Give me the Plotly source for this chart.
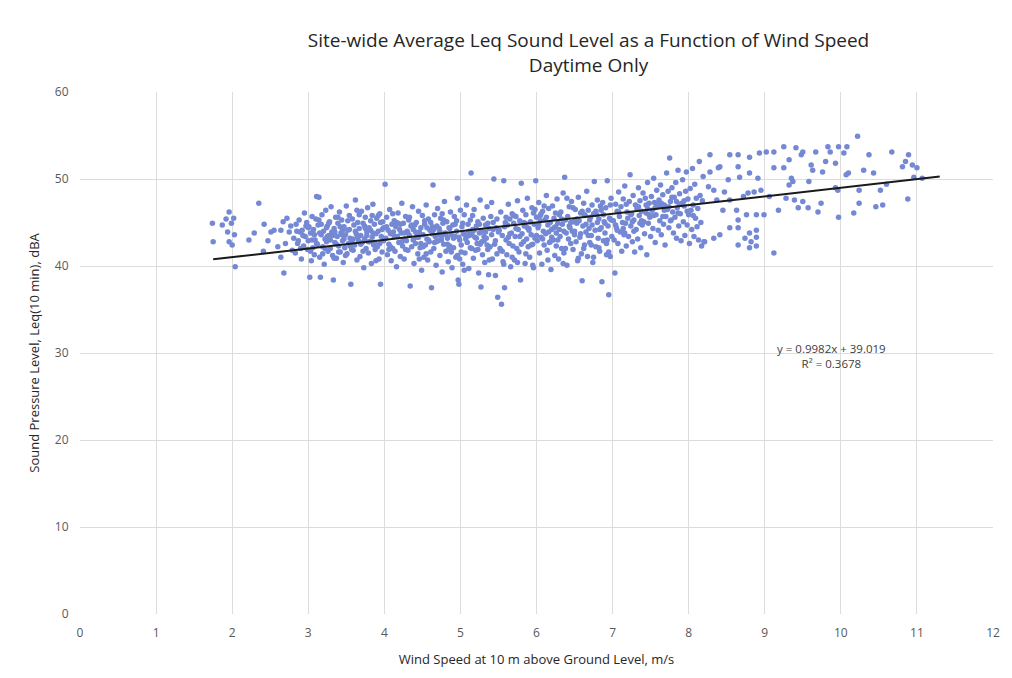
import plotly.graph_objects as go

# ---------------- data ----------------
ws_a = [1.74, 1.75, 1.87, 1.94, 1.96, 1.96, 1.99, 2.00, 2.03, 2.04,
        2.22, 2.29, 2.35, 2.41, 2.42, 2.51, 2.55, 2.64, 2.64, 2.67,
        2.68, 2.72, 2.75, 2.70, 2.60, 2.47, 1.92, 2.02, 2.77, 2.79]
leq_a = [44.9, 42.8, 44.7, 43.9, 46.2, 42.8, 44.9, 42.4, 43.6, 39.9,
         43.0, 43.8, 47.2, 41.7, 44.8, 43.9, 44.1, 44.1, 41.0, 45.1,
         39.2, 45.5, 43.9, 42.6, 42.2, 42.9, 45.4, 45.5, 44.6, 41.8]

ws_b = [2.81, 2.83, 2.84, 2.86, 2.88, 2.89, 2.91, 2.92, 2.94, 2.95,
        2.96, 2.98, 2.99, 3.00, 3.01, 3.02, 3.03, 3.04, 3.05, 3.06,
        3.07, 3.08, 3.09, 3.10, 3.11, 3.12, 3.13, 3.14, 3.15, 3.16,
        3.17, 3.18, 3.19, 3.20, 3.21, 3.22, 3.23, 3.24, 3.25, 3.26,
        3.27, 3.28, 3.29, 3.30, 3.31, 3.32, 3.33, 3.34, 3.35, 3.36,
        3.37, 3.38, 3.39, 3.40, 3.41, 3.42, 3.43, 3.44, 3.45, 3.46,
        3.47, 3.48, 3.49, 3.50, 3.51, 3.52, 3.53, 3.54, 3.55, 3.56,
        3.57, 3.58, 3.59, 3.60, 3.61, 3.62, 3.63, 3.64, 3.65, 3.66,
        3.67, 3.68, 3.69, 3.70, 3.71, 3.72, 3.73, 3.74, 3.75, 3.76,
        3.77, 3.78, 3.79, 3.80, 3.81, 3.82, 3.83, 3.84, 3.85, 3.86,
        3.87, 3.88, 3.89, 3.90, 3.91, 3.92, 3.93, 3.94, 3.95, 3.96,
        3.97, 3.98, 3.99, 2.85, 2.90, 2.97, 3.03, 3.08, 3.14, 3.19,
        3.24, 3.29, 3.34, 3.39, 3.44, 3.49, 3.54, 3.59, 3.64, 3.69,
        3.74, 3.79, 3.84, 3.89, 3.94, 3.99, 2.87, 2.93, 3.00, 3.06,
        3.11, 3.17, 3.22, 3.27, 3.32, 3.37, 3.42, 3.47, 3.52, 3.57,
        3.62, 3.67, 3.72, 3.77, 3.82, 3.87, 3.92, 3.97, 3.05, 3.25,
        3.45, 3.65, 3.85, 3.35, 3.55, 3.75, 3.95, 3.15, 3.40, 3.60]
leq_b = [43.2, 41.5, 44.8, 42.6, 45.3, 43.9, 40.8, 44.1, 42.3, 46.1,
         43.4, 45.0, 41.9, 42.9, 44.5, 38.7, 43.8, 40.6, 45.7, 42.1,
         44.2, 41.3, 43.0, 45.4, 48.0, 42.5, 44.7, 47.9, 41.0, 38.7,
         43.6, 45.9, 42.2, 44.0, 40.2, 43.1, 46.4, 42.8, 44.6, 41.7,
         43.5, 45.1, 42.0, 46.8, 43.9, 41.2, 38.4, 44.3, 42.7, 45.6,
         40.9, 43.4, 44.9, 42.3, 46.2, 41.6, 43.8, 45.3, 42.9, 40.4,
         44.5, 42.1, 43.6, 46.9, 41.4, 44.1, 42.6, 45.8, 43.2, 37.9,
         43.0, 45.4, 41.8, 44.7, 42.4, 47.6, 43.7, 40.7, 45.0, 42.9,
         44.3, 41.1, 43.5, 46.3, 42.7, 44.9, 39.8, 43.1, 45.6, 42.0,
         43.9, 46.7, 41.5, 44.4, 42.8, 45.2, 40.3, 43.3, 47.1, 42.4,
         44.8, 41.9, 43.7, 45.5, 42.2, 44.0, 40.8, 46.0, 37.9, 43.4,
         41.6, 45.1, 42.9, 44.0, 42.0, 44.6, 41.7, 43.6, 45.3, 41.4,
         44.4, 43.0, 40.9, 45.6, 43.6, 41.2, 44.2, 43.1, 46.4, 42.5,
         44.6, 42.8, 45.8, 40.6, 42.6, 44.4, 42.9, 43.5, 44.4, 43.8,
         42.6, 44.8, 42.0, 44.9, 43.5, 42.5, 44.5, 43.1, 45.2, 41.9,
         44.0, 45.9, 41.7, 43.5, 44.1, 42.7, 45.8, 44.2, 43.0, 43.4,
         44.1, 43.3, 43.8, 43.9, 42.3, 44.3, 45.0, 43.8, 41.6, 42.5]

ws_c = [4.01, 4.02, 4.03, 4.04, 4.05, 4.06, 4.07, 4.08, 4.09, 4.10,
        4.11, 4.12, 4.13, 4.14, 4.15, 4.16, 4.17, 4.18, 4.19, 4.20,
        4.21, 4.22, 4.23, 4.24, 4.25, 4.26, 4.27, 4.28, 4.29, 4.30,
        4.31, 4.32, 4.33, 4.34, 4.35, 4.36, 4.37, 4.38, 4.39, 4.40,
        4.41, 4.42, 4.43, 4.44, 4.45, 4.46, 4.47, 4.48, 4.49, 4.50,
        4.51, 4.52, 4.53, 4.54, 4.55, 4.56, 4.57, 4.58, 4.59, 4.60,
        4.61, 4.62, 4.63, 4.64, 4.65, 4.66, 4.67, 4.68, 4.69, 4.70,
        4.71, 4.72, 4.73, 4.74, 4.75, 4.76, 4.77, 4.78, 4.79, 4.80,
        4.81, 4.82, 4.83, 4.84, 4.85, 4.86, 4.87, 4.88, 4.89, 4.90,
        4.91, 4.92, 4.93, 4.94, 4.95, 4.96, 4.97, 4.98, 4.99, 5.00,
        5.01, 5.02, 5.03, 5.04, 5.05, 5.06, 5.07, 5.08, 5.09, 5.10,
        5.11, 5.12, 5.13, 5.14, 5.15, 5.16, 5.17, 5.18, 5.19, 5.20,
        5.21, 5.22, 5.23, 5.24, 5.25, 5.26, 5.27, 5.28, 5.29, 5.30,
        5.31, 5.32, 5.33, 5.34, 5.35, 5.36, 5.37, 5.38, 5.39, 5.40,
        5.41, 5.42, 5.43, 5.44, 5.45, 5.46, 5.47, 5.48, 5.49, 5.50,
        4.03, 4.08, 4.13, 4.18, 4.23, 4.28, 4.33, 4.38, 4.43, 4.48,
        4.53, 4.58, 4.63, 4.68, 4.73, 4.78, 4.83, 4.88, 4.93, 4.98,
        5.03, 5.08, 5.13, 5.18, 5.23, 5.28, 5.33, 5.38, 5.43, 5.48,
        4.06, 4.16, 4.26, 4.36, 4.46, 4.56, 4.66, 4.76, 4.86, 4.96,
        5.06, 5.16, 5.26, 5.36, 5.46, 4.11, 4.31, 4.51, 4.71, 4.91,
        5.11, 5.31, 4.21, 4.41, 4.61, 4.81, 5.01, 5.21, 5.41, 4.99,
        4.45, 4.55, 4.65, 4.75, 4.85, 4.95, 5.05, 5.15, 5.25, 5.35]
leq_c = [49.4, 43.2, 45.6, 41.3, 44.1, 42.5, 46.5, 43.7, 40.6, 44.8,
         42.0, 43.9, 45.2, 41.7, 44.5, 39.9, 43.4, 46.1, 42.7, 44.2,
         41.1, 43.8, 47.2, 42.3, 44.9, 40.8, 43.1, 45.7, 42.9, 44.0,
         41.8, 45.3, 43.5, 37.7, 44.6, 42.2, 46.8, 43.0, 40.3, 44.7,
         42.6, 45.0, 43.3, 41.4, 46.3, 43.9, 42.1, 44.4, 39.5, 45.8,
         43.6, 41.0, 44.8, 42.4, 47.0, 43.1, 40.7, 45.4, 42.8, 44.1,
         41.6, 37.5, 43.7, 49.3, 42.0, 45.9, 43.4, 40.1, 44.6, 46.6,
         42.9, 44.3, 41.2, 45.5, 43.0, 39.3, 44.9, 42.5, 47.4, 43.8,
         41.7, 45.1, 43.2, 40.5, 44.4, 42.3, 46.2, 43.6, 39.8, 44.7,
         42.1, 45.7, 43.4, 41.0, 44.0, 47.8, 38.4, 37.9, 43.0, 46.4,
         42.4, 44.5, 40.2, 43.7, 45.9, 41.5, 43.1, 47.0, 42.7, 44.8,
         39.7, 43.5, 45.3, 50.7, 42.0, 44.2, 40.9, 46.5, 43.3, 41.8,
         44.6, 42.6, 45.1, 39.2, 43.8, 47.6, 37.6, 44.0, 41.3, 45.5,
         42.9, 40.4, 44.7, 43.2, 46.8, 41.9, 39.0, 44.3, 42.2, 45.7,
         43.6, 40.8, 45.0, 50.0, 42.5, 38.9, 44.4, 41.4, 36.4, 43.9,
         44.5, 42.2, 43.4, 44.9, 42.8, 41.9, 45.6, 44.2, 43.7, 42.6,
         45.2, 43.0, 44.5, 42.8, 44.0, 45.3, 42.5, 41.6, 44.8, 43.3,
         44.9, 43.4, 42.1, 44.1, 41.9, 42.8, 43.9, 40.7, 44.2, 45.4,
         41.9, 45.0, 43.8, 44.7, 40.8, 44.4, 42.7, 46.0, 44.3, 41.2,
         43.6, 45.8, 42.5, 44.9, 42.9, 46.0, 43.8, 42.2, 43.6, 43.2,
         44.0, 43.4, 44.8, 43.9, 45.0, 43.6, 41.6, 43.2, 47.3, 40.8,
         43.3, 41.4, 44.2, 43.4, 42.0, 45.2, 39.5, 43.7, 44.8, 42.4]

ws_d = [5.51, 5.52, 5.53, 5.54, 5.55, 5.56, 5.57, 5.58, 5.59, 5.60,
        5.61, 5.62, 5.63, 5.64, 5.65, 5.66, 5.67, 5.68, 5.69, 5.70,
        5.71, 5.72, 5.73, 5.74, 5.75, 5.76, 5.77, 5.78, 5.79, 5.80,
        5.81, 5.82, 5.83, 5.84, 5.85, 5.86, 5.87, 5.88, 5.89, 5.90,
        5.91, 5.92, 5.93, 5.94, 5.95, 5.96, 5.97, 5.98, 5.99, 6.00,
        6.01, 6.02, 6.03, 6.04, 6.05, 6.06, 6.07, 6.08, 6.09, 6.10,
        6.11, 6.12, 6.13, 6.14, 6.15, 6.16, 6.17, 6.18, 6.19, 6.20,
        6.21, 6.22, 6.23, 6.24, 6.25, 6.26, 6.27, 6.28, 6.29, 6.30,
        6.31, 6.32, 6.33, 6.34, 6.35, 6.36, 6.37, 6.38, 6.39, 6.40,
        6.41, 6.42, 6.43, 6.44, 6.45, 6.46, 6.47, 6.48, 6.49, 6.50,
        6.51, 6.52, 6.53, 6.54, 6.55, 6.56, 6.57, 6.58, 6.59, 6.60,
        6.61, 6.62, 6.63, 6.64, 6.65, 6.66, 6.67, 6.68, 6.69, 6.70,
        6.71, 6.72, 6.73, 6.74, 6.75, 6.76, 6.77, 6.78, 6.79, 6.80,
        6.81, 6.82, 6.83, 6.84, 6.85, 6.86, 6.87, 6.88, 6.89, 6.90,
        6.91, 6.92, 6.93, 6.94, 6.95, 6.96, 6.97, 6.98, 6.99, 5.53,
        5.58, 5.63, 5.68, 5.73, 5.78, 5.83, 5.88, 5.93, 5.98, 6.03,
        6.08, 6.13, 6.18, 6.23, 6.28, 6.33, 6.38, 6.43, 6.48, 6.53,
        6.58, 6.63, 6.68, 6.73, 6.78, 6.83, 6.88, 6.93, 6.98, 5.57,
        5.75, 5.95, 6.15, 6.35, 6.55, 6.75, 6.95, 5.65, 5.85, 6.05,
        6.25, 6.45, 6.65, 6.85, 5.55, 5.70, 5.90, 6.10, 6.30, 6.50,
        6.70, 6.90, 5.60, 5.80, 6.00, 6.20, 6.40, 6.60, 6.80, 6.97,
        6.62, 6.72, 6.82, 6.92, 6.36, 6.26, 6.16, 6.06, 5.96, 5.86]
leq_d = [44.1, 42.0, 46.2, 35.6, 43.5, 40.5, 49.8, 37.5, 45.0, 43.0,
         41.3, 44.7, 47.1, 42.6, 45.4, 39.9, 43.8, 46.0, 42.3, 44.9,
         40.7, 43.4, 45.7, 42.0, 47.5, 44.2, 41.6, 45.2, 38.4, 49.5,
         43.7, 46.4, 42.8, 44.6, 40.3, 45.9, 43.1, 47.8, 42.2, 44.3,
         41.0, 45.1, 43.6, 46.7, 42.5, 39.8, 44.8, 43.2, 49.8, 45.6,
         42.9, 44.4, 47.3, 41.5, 45.8, 43.3, 40.2, 46.3, 44.0, 42.4,
         45.3, 43.7, 48.1, 41.8, 44.7, 46.6, 42.7, 45.0, 39.6, 44.2,
         46.9, 43.0, 45.5, 41.2, 44.5, 42.3, 47.7, 44.9, 40.8, 45.9,
         43.4, 46.2, 42.0, 44.8, 48.4, 41.5, 50.2, 45.3, 43.8, 40.1,
         45.7, 43.1, 46.8, 44.4, 42.6, 47.4, 44.0, 41.9, 45.1, 43.6,
         46.5, 42.8, 44.9, 40.6, 47.9, 45.2, 43.3, 46.1, 41.4, 38.3,
         44.6, 47.2, 42.4, 45.8, 43.9, 48.6, 41.1, 46.4, 44.3, 42.7,
         45.6, 43.5, 47.0, 40.4, 46.0, 49.7, 44.1, 42.2, 45.9, 47.6,
         43.2, 45.4, 41.7, 46.9, 44.4, 38.2, 47.3, 42.9, 45.1, 43.8,
         46.7, 41.3, 49.8, 44.6, 36.7, 45.5, 41.1, 47.8, 43.4, 41.8,
         44.5, 43.3, 41.0, 44.3, 43.4, 45.0, 44.4, 42.4, 46.5, 44.7,
         43.1, 45.6, 42.8, 44.4, 43.0, 45.4, 42.0, 44.6, 46.7, 45.4,
         43.7, 45.9, 43.5, 44.7, 46.3, 44.2, 45.9, 43.0, 45.3, 40.2,
         40.4, 40.1, 40.7, 40.3, 40.9, 41.0, 41.6, 43.7, 44.9, 45.2,
         46.1, 45.0, 44.8, 46.4, 41.7, 45.8, 44.1, 46.9, 44.2, 44.0,
         45.3, 44.9, 45.6, 42.5, 43.5, 43.3, 47.8, 46.3, 45.0, 47.0,
         42.0, 42.4, 42.1, 42.6, 44.0, 43.8, 43.9, 46.0, 46.1, 41.4]

ws_e = [7.01, 7.02, 7.03, 7.04, 7.05, 7.06, 7.07, 7.08, 7.09, 7.10,
        7.11, 7.12, 7.13, 7.14, 7.15, 7.16, 7.17, 7.18, 7.19, 7.20,
        7.21, 7.22, 7.23, 7.24, 7.25, 7.26, 7.27, 7.28, 7.29, 7.30,
        7.31, 7.32, 7.33, 7.34, 7.35, 7.36, 7.37, 7.38, 7.39, 7.40,
        7.41, 7.42, 7.43, 7.44, 7.45, 7.46, 7.47, 7.48, 7.49, 7.50,
        7.51, 7.52, 7.53, 7.54, 7.55, 7.56, 7.57, 7.58, 7.59, 7.60,
        7.61, 7.62, 7.63, 7.64, 7.65, 7.66, 7.67, 7.68, 7.69, 7.70,
        7.71, 7.72, 7.73, 7.74, 7.75, 7.76, 7.77, 7.78, 7.79, 7.80,
        7.81, 7.82, 7.83, 7.84, 7.85, 7.86, 7.87, 7.88, 7.89, 7.90,
        7.91, 7.92, 7.93, 7.94, 7.95, 7.96, 7.97, 7.98, 7.99, 8.00,
        8.01, 8.02, 8.03, 8.04, 8.05, 8.06, 8.07, 8.08, 8.09, 8.10,
        8.11, 8.12, 8.13, 8.14, 8.15, 8.16, 8.17, 8.18, 8.19, 8.20,
        7.04, 7.14, 7.24, 7.34, 7.44, 7.54, 7.64, 7.74, 7.84, 7.94,
        7.08, 7.18, 7.28, 7.38, 7.48, 7.58, 7.68, 7.78, 7.88, 7.98,
        7.06, 7.26, 7.46, 7.66, 7.86, 8.06, 7.16, 7.36, 7.56, 7.76]
leq_e = [45.2, 43.0, 39.2, 47.1, 44.4, 46.3, 42.6, 48.5, 45.7, 43.9,
         46.8, 41.7, 45.0, 47.7, 43.6, 49.2, 44.9, 42.3, 46.2, 45.5,
         43.4, 47.4, 50.5, 44.6, 46.0, 42.8, 48.1, 45.3, 41.6, 47.0,
         44.2, 46.6, 43.1, 49.0, 45.8, 47.5, 42.1, 46.3, 44.7, 48.4,
         45.1, 43.7, 47.8, 46.1, 41.3, 49.6, 44.9, 47.2, 45.6, 43.4,
         48.0, 46.4, 44.3, 50.1, 47.3, 42.7, 45.9, 48.7, 46.8, 44.1,
         47.6, 45.2, 49.3, 43.6, 46.9, 48.2, 44.8, 47.0, 42.4, 45.7,
         50.7, 46.5, 48.6, 44.4, 52.4, 47.4, 45.3, 49.0, 46.2, 43.8,
         47.9, 45.6, 49.6, 43.2, 46.7, 51.0, 44.6, 48.3, 46.0, 42.9,
         47.2, 49.9, 45.1, 46.9, 43.5, 48.6, 50.8, 44.7, 47.7, 45.9,
         42.6, 48.9, 46.4, 44.2, 51.2, 47.0, 43.4, 49.4, 45.5, 47.8,
         44.5, 46.6, 43.0, 52.0, 48.1, 45.0, 42.3, 47.5, 50.3, 42.8,
         44.7, 44.3, 45.9, 46.8, 47.0, 45.8, 47.2, 46.8, 47.4, 47.5,
         46.2, 47.1, 44.0, 45.2, 45.9, 47.1, 46.4, 47.9, 47.1, 46.3,
         44.1, 45.1, 46.6, 45.7, 46.1, 45.8, 43.8, 44.9, 46.7, 45.2]

ws_f = [8.21, 8.26, 8.28, 8.28, 8.33, 8.33, 8.37, 8.39, 8.41, 8.41,
        8.45, 8.47, 8.52, 8.54, 8.54, 8.54, 8.63, 8.65, 8.65, 8.65,
        8.65, 8.65, 8.67, 8.72, 8.74, 8.76, 8.78, 8.80, 8.80, 8.80,
        8.80, 8.82, 8.86, 8.89, 8.89, 8.89, 8.89, 8.91, 8.93, 8.95,
        8.99, 9.02, 9.06, 9.12, 9.12, 9.12, 9.18, 9.25, 9.25, 9.28,
        9.32, 9.32, 9.35, 9.37, 9.39, 9.41, 9.44, 9.48, 9.50, 9.50,
        9.57, 9.58, 9.61, 9.63, 9.67, 9.70, 9.74, 9.76, 9.80, 9.83,
        9.86, 9.93, 9.93, 9.96, 9.97, 9.97, 10.04, 10.07, 10.08, 10.10,
        10.17, 10.22, 10.24, 10.24, 10.30, 10.37, 10.43, 10.46, 10.52, 10.55,
        10.67, 10.81, 10.85, 10.88, 10.89, 10.94, 10.96, 11.00, 11.07, 10.60]
leq_f = [42.8, 49.1, 52.8, 50.8, 43.2, 48.7, 47.6, 51.3, 43.6, 51.4,
         46.4, 48.5, 49.9, 52.8, 44.4, 47.6, 46.4, 52.8, 51.4, 42.4,
         44.4, 45.3, 50.2, 48.0, 43.2, 45.9, 48.4, 52.5, 50.7, 43.8,
         42.1, 42.8, 48.5, 45.9, 44.1, 43.3, 42.3, 50.1, 53.0, 48.7,
         45.9, 53.1, 48.0, 53.1, 51.3, 41.5, 46.4, 53.7, 51.3, 47.8,
         52.2, 49.3, 50.1, 49.7, 47.6, 53.6, 46.7, 52.8, 53.1, 47.4,
         46.7, 49.7, 51.6, 51.0, 53.1, 46.2, 47.2, 50.8, 52.0, 53.7,
         53.1, 51.8, 49.0, 48.7, 53.7, 45.6, 53.0, 50.5, 53.7, 50.7,
         46.1, 54.9, 48.7, 47.2, 51.0, 52.8, 50.7, 46.8, 48.7, 47.0,
         53.1, 51.4, 52.0, 47.7, 52.8, 51.6, 50.2, 51.3, 50.1, 49.4]

# Linear trendline as reported on the chart
trend_slope = 0.9982
trend_intercept = 39.019
trend_x = [1.75, 11.3]

x_ticks = [0, 1, 2, 3, 4, 5, 6, 7, 8, 9, 10, 11, 12]
y_ticks = [0, 10, 20, 30, 40, 50, 60]

# ---------------- figure ----------------
wind = ws_a + ws_b + ws_c + ws_d + ws_e + ws_f
leq = leq_a + leq_b + leq_c + leq_d + leq_e + leq_f
trend_y = [trend_slope * v + trend_intercept for v in trend_x]

FONT = "Open Sans, sans-serif"

fig = go.Figure()
fig.add_trace(go.Scatter(
    x=wind, y=leq, mode="markers",
    marker=dict(size=5.5, color="#7488d4", line=dict(width=0)),
    showlegend=False, hoverinfo="x+y"))
fig.add_trace(go.Scatter(
    x=trend_x, y=trend_y, mode="lines",
    line=dict(color="#1a1a1a", width=2),
    showlegend=False, hoverinfo="skip"))

fig.add_annotation(
    x=9.88, y=29.6, xref="x", yref="y",
    text="y = 0.9982x + 39.019<br>R\u00b2 = 0.3678",
    showarrow=False, align="center",
    font=dict(family=FONT, size=11.5, color="#404040"))

fig.update_layout(
    width=1012, height=678,
    paper_bgcolor="white", plot_bgcolor="white",
    margin=dict(l=80, r=14, t=92, b=64),
    title=dict(
        text="Site-wide Average Leq Sound Level as a Function of Wind Speed<br>Daytime Only",
        x=0.557, xref="paper", xanchor="center",
        y=0.93, yref="container", yanchor="top",
        font=dict(family=FONT, size=19, color="#262626")),
    xaxis=dict(
        range=[0, 12], tickvals=x_ticks, showgrid=True,
        gridcolor="#dcdcdc", gridwidth=1, zeroline=False,
        showline=False, ticks="outside", ticklen=8, tickcolor="rgba(0,0,0,0)",
        tickfont=dict(family=FONT, size=12, color="#595959"),
        title=dict(text="Wind Speed at 10 m above Ground Level, m/s",
                   font=dict(family=FONT, size=13, color="#262626"),
                   standoff=14)),
    yaxis=dict(
        range=[0, 60], tickvals=y_ticks, showgrid=True,
        gridcolor="#dcdcdc", gridwidth=1, zeroline=False,
        showline=False, ticks="outside", ticklen=8, tickcolor="rgba(0,0,0,0)",
        tickfont=dict(family=FONT, size=12, color="#595959"),
        title=dict(text="Sound Pressure Level, Leq(10 min), dBA",
                   font=dict(family=FONT, size=13, color="#262626"),
                   standoff=12)),
)

fig.write_html("out.html")
